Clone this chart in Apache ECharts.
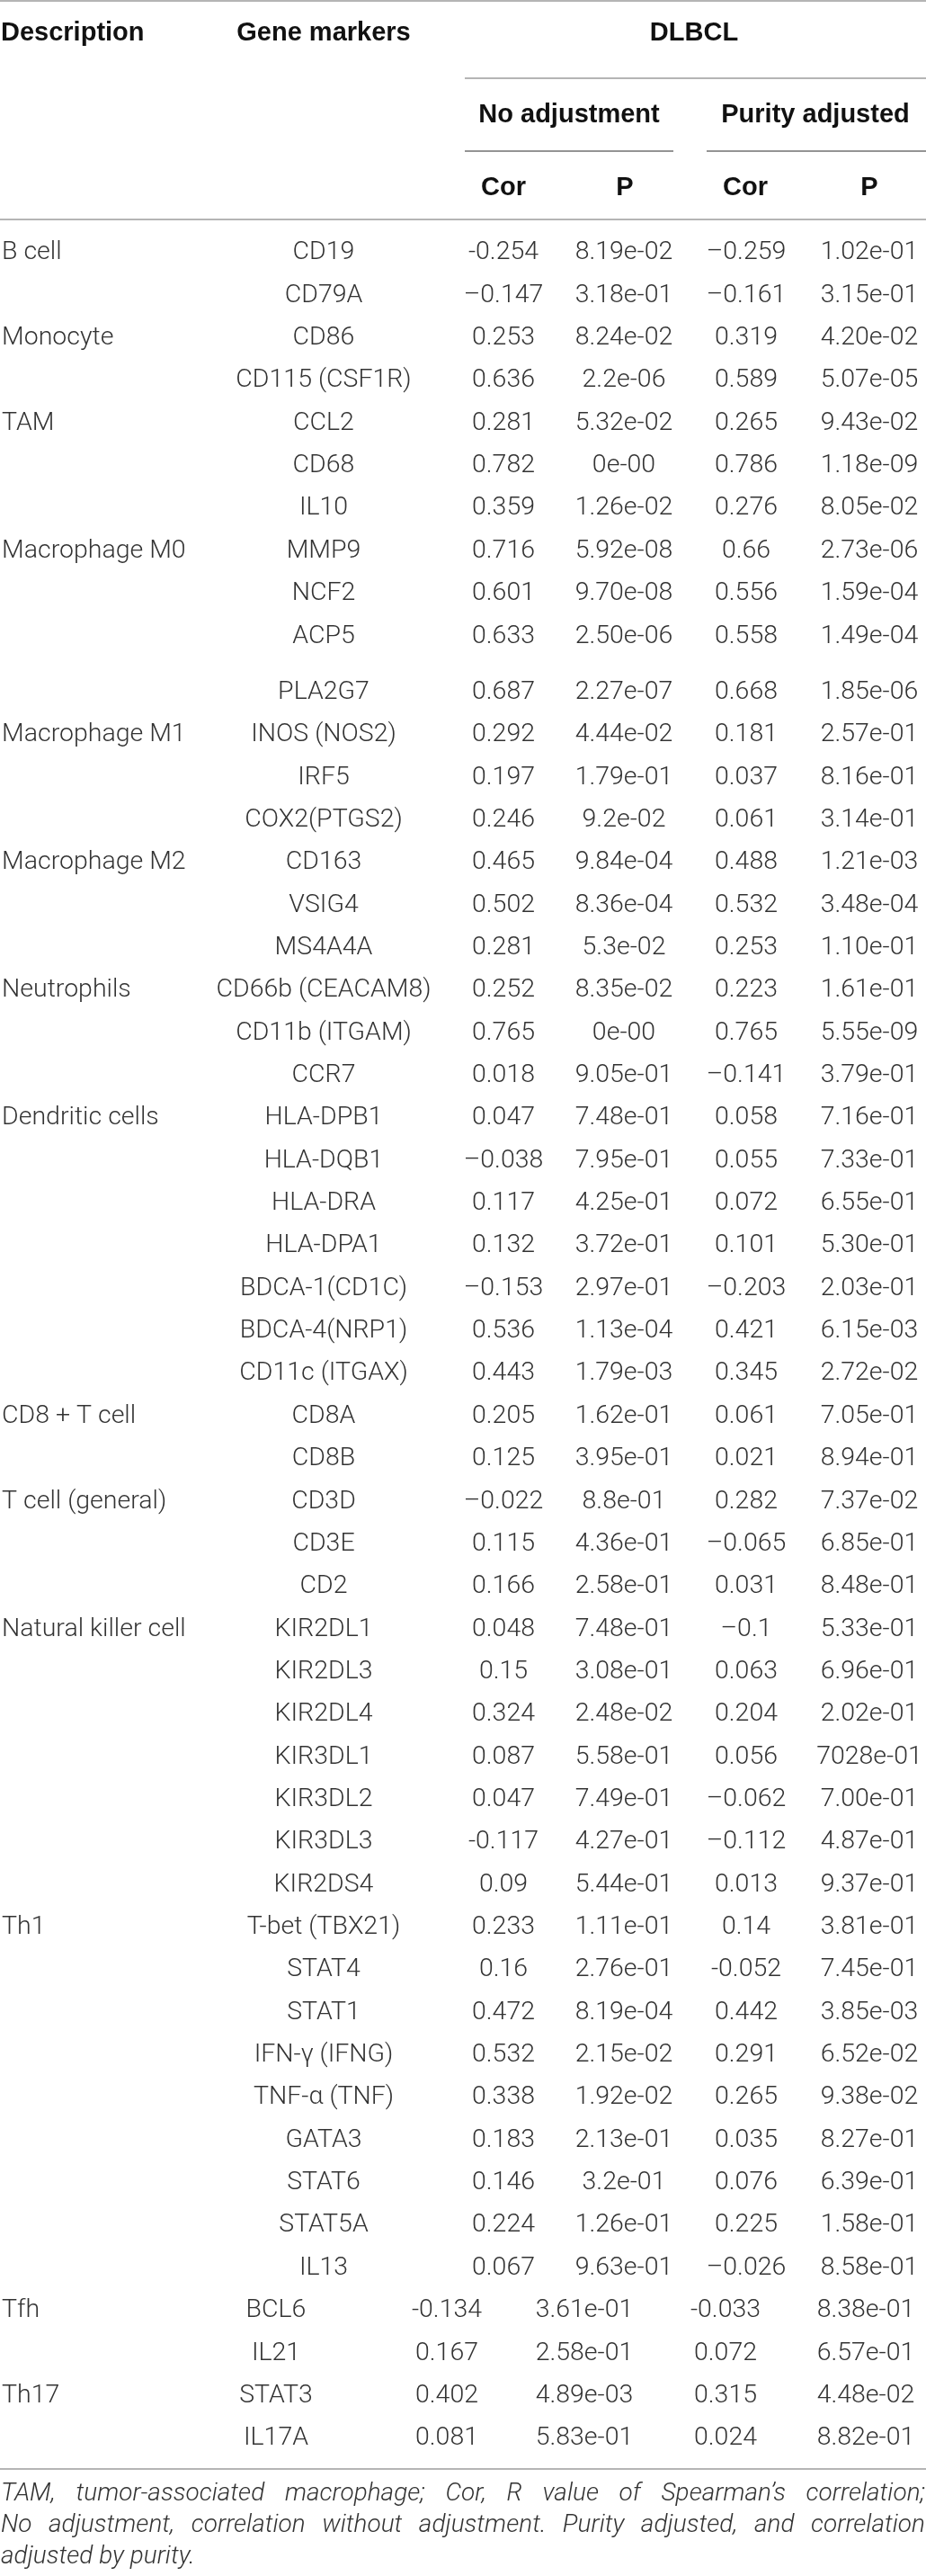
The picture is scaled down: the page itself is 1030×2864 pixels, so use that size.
<!DOCTYPE html>
<html>
<head>
<meta charset="UTF-8">
<title>DLBCL gene markers</title>
<script src="https://cdn.jsdelivr.net/npm/echarts@6/dist/echarts.min.js"></script>
<style>
    html, body { margin: 0; padding: 0; background: #fff; }
    #main { width: 1030px; height: 2864px; }
</style>
</head>
<body>
<div id="main"></div>
<script>
    // table content, row by row
    var descriptions = ['B cell', '', 'Monocyte', '', 'TAM', '', '', 'Macrophage M0', '', '', '',
        'Macrophage M1', '', '', 'Macrophage M2', '', '', 'Neutrophils', '', '',
        'Dendritic cells', '', '', '', '', '', '', 'CD8 + T cell', '', 'T cell (general)', '', '',
        'Natural killer cell', '', '', '', '', '', '', 'Th1', '', '', '', '', '', '', '', '',
        'Tfh', '', 'Th17', ''];
    var geneMarkers = ['CD19', 'CD79A', 'CD86', 'CD115 (CSF1R)', 'CCL2', 'CD68', 'IL10', 'MMP9', 'NCF2', 'ACP5',
        'PLA2G7', 'INOS (NOS2)', 'IRF5', 'COX2(PTGS2)', 'CD163', 'VSIG4', 'MS4A4A', 'CD66b (CEACAM8)',
        'CD11b (ITGAM)', 'CCR7', 'HLA-DPB1', 'HLA-DQB1', 'HLA-DRA', 'HLA-DPA1', 'BDCA-1(CD1C)', 'BDCA-4(NRP1)',
        'CD11c (ITGAX)', 'CD8A', 'CD8B', 'CD3D', 'CD3E', 'CD2', 'KIR2DL1', 'KIR2DL3', 'KIR2DL4', 'KIR3DL1',
        'KIR3DL2', 'KIR3DL3', 'KIR2DS4', 'T-bet (TBX21)', 'STAT4', 'STAT1', 'IFN-\u03b3 (IFNG)', 'TNF-\u03b1 (TNF)',
        'GATA3', 'STAT6', 'STAT5A', 'IL13', 'BCL6', 'IL21', 'STAT3', 'IL17A'];
    var corNoAdj = ['-0.254', '\u20130.147', '0.253', '0.636', '0.281', '0.782', '0.359', '0.716', '0.601', '0.633',
        '0.687', '0.292', '0.197', '0.246', '0.465', '0.502', '0.281', '0.252', '0.765', '0.018',
        '0.047', '\u20130.038', '0.117', '0.132', '\u20130.153', '0.536', '0.443', '0.205', '0.125', '\u20130.022',
        '0.115', '0.166', '0.048', '0.15', '0.324', '0.087', '0.047', '-0.117', '0.09', '0.233',
        '0.16', '0.472', '0.532', '0.338', '0.183', '0.146', '0.224', '0.067', '-0.134', '0.167',
        '0.402', '0.081'];
    var pNoAdj = ['8.19e-02', '3.18e-01', '8.24e-02', '2.2e-06', '5.32e-02', '0e-00', '1.26e-02', '5.92e-08', '9.70e-08', '2.50e-06',
        '2.27e-07', '4.44e-02', '1.79e-01', '9.2e-02', '9.84e-04', '8.36e-04', '5.3e-02', '8.35e-02', '0e-00', '9.05e-01',
        '7.48e-01', '7.95e-01', '4.25e-01', '3.72e-01', '2.97e-01', '1.13e-04', '1.79e-03', '1.62e-01', '3.95e-01', '8.8e-01',
        '4.36e-01', '2.58e-01', '7.48e-01', '3.08e-01', '2.48e-02', '5.58e-01', '7.49e-01', '4.27e-01', '5.44e-01', '1.11e-01',
        '2.76e-01', '8.19e-04', '2.15e-02', '1.92e-02', '2.13e-01', '3.2e-01', '1.26e-01', '9.63e-01', '3.61e-01', '2.58e-01',
        '4.89e-03', '5.83e-01'];
    var corPurity = ['\u20130.259', '\u20130.161', '0.319', '0.589', '0.265', '0.786', '0.276', '0.66', '0.556', '0.558',
        '0.668', '0.181', '0.037', '0.061', '0.488', '0.532', '0.253', '0.223', '0.765', '\u20130.141',
        '0.058', '0.055', '0.072', '0.101', '\u20130.203', '0.421', '0.345', '0.061', '0.021', '0.282',
        '\u20130.065', '0.031', '\u20130.1', '0.063', '0.204', '0.056', '\u20130.062', '\u20130.112', '0.013', '0.14',
        '-0.052', '0.442', '0.291', '0.265', '0.035', '0.076', '0.225', '\u20130.026', '-0.033', '0.072',
        '0.315', '0.024'];
    var pPurity = ['1.02e-01', '3.15e-01', '4.20e-02', '5.07e-05', '9.43e-02', '1.18e-09', '8.05e-02', '2.73e-06', '1.59e-04', '1.49e-04',
        '1.85e-06', '2.57e-01', '8.16e-01', '3.14e-01', '1.21e-03', '3.48e-04', '1.10e-01', '1.61e-01', '5.55e-09', '3.79e-01',
        '7.16e-01', '7.33e-01', '6.55e-01', '5.30e-01', '2.03e-01', '6.15e-03', '2.72e-02', '7.05e-01', '8.94e-01', '7.37e-02',
        '6.85e-01', '8.48e-01', '5.33e-01', '6.96e-01', '2.02e-01', '7028e-01', '7.00e-01', '4.87e-01', '9.37e-01', '3.81e-01',
        '7.45e-01', '3.85e-03', '6.52e-02', '9.38e-02', '8.27e-01', '6.39e-01', '1.58e-01', '8.58e-01', '8.38e-01', '6.57e-01',
        '4.48e-02', '8.82e-01'];

    var headTop = ['Description', 'Gene markers', 'DLBCL'];
    var headMid = ['No adjustment', 'Purity adjusted'];
    var headSub = ['Cor', 'P', 'Cor', 'P'];
    var footLines = [
        'TAM, tumor-associated macrophage; Cor, R value of Spearman\u2019s correlation;',
        'No adjustment, correlation without adjustment. Purity adjusted, and correlation',
        'adjusted by purity.'
    ];

    // layout (axis units == pixels)
    var W = 1030, H = 2864;
    var rowStart = 280, rowStep = 47.35, gapRow = 10, gapSize = 15;
    var colX = [2, 360, 560, 694, 830, 967];
    var colXTail = [2, 307, 497, 650, 807, 963];   // Tfh / Th17 rows sit further left
    var tailFrom = 48;
    var bodyFont = "'Roboto Light', 'Lato Light', 'Open Sans Light', Roboto, sans-serif";
    var headFont = "'Liberation Sans', Arial, sans-serif";
    var bodySize = 28.5, headSize = 29;
    var bodyColor = '#333333', headColor = '#111111';

    function rowY(i) {
        return rowStart + i * rowStep + (i >= gapRow ? gapSize : 0);
    }

    var cells = [];
    var columns = [descriptions, geneMarkers, corNoAdj, pNoAdj, corPurity, pPurity];
    for (var i = 0; i < geneMarkers.length; i++) {
        var cx = i >= tailFrom ? colXTail : colX;
        for (var c = 0; c < columns.length; c++) {
            if (!columns[c][i]) continue;
            cells.push({ value: [cx[c], rowY(i)], text: columns[c][i], align: c === 0 ? 'left' : 'center', head: false });
        }
    }
    // header cells
    cells.push({ value: [1, 37], text: headTop[0], align: 'left', head: true });
    cells.push({ value: [360, 37], text: headTop[1], align: 'center', head: true });
    cells.push({ value: [772, 37], text: headTop[2], align: 'center', head: true });
    cells.push({ value: [633, 128], text: headMid[0], align: 'center', head: true });
    cells.push({ value: [907, 128], text: headMid[1], align: 'center', head: true });
    [560, 695, 829, 967].forEach(function (x, k) {
        cells.push({ value: [x, 209], text: headSub[k], align: 'center', head: true });
    });

    // rules: [x1, x2, y, colour, width]
    var rules = [
        [0, W, 1, '#b5b5b5', 2],
        [517, W, 87, '#b5b5b5', 2],
        [517, 749, 168, '#707070', 1.5],
        [786, W, 168, '#707070', 1.5],
        [0, W, 244, '#b5b5b5', 2],
        [0, W, 2745, '#b5b5b5', 2]
    ];

    // footnote, justified like the printed caption
    var footSize = 28, footY = [2772, 2807, 2842];
    var footFontCss = 'italic 300 ' + footSize + 'px ' + bodyFont;
    var ctx = document.createElement('canvas').getContext('2d');
    ctx.font = footFontCss;
    var footWords = [];
    footLines.forEach(function (line, li) {
        var words = line.split(' ');
        var widths = words.map(function (w) { return ctx.measureText(w).width; });
        var total = widths.reduce(function (a, b) { return a + b; }, 0);
        var justify = li < footLines.length - 1;
        var gap = justify ? (W - 2 - total) / (words.length - 1) : ctx.measureText(' ').width;
        var x = 1;
        words.forEach(function (w, k) {
            footWords.push({ value: [x, footY[li]], text: w });
            x += widths[k] + gap;
        });
    });

    var myChart = echarts.init(document.getElementById('main'), null, { renderer: 'canvas' });

    var option = {
        backgroundColor: '#ffffff',
        animation: false,
        grid: { left: 0, right: 0, top: 0, bottom: 0 },
        xAxis: { type: 'value', min: 0, max: W, show: false },
        yAxis: { type: 'value', min: 0, max: H, inverse: true, show: false },
        series: [
            {
                type: 'custom',
                silent: true,
                clip: false,
                data: rules.map(function (r) { return [r[0], r[1], r[2]]; }),
                renderItem: function (params, api) {
                    var r = rules[params.dataIndex];
                    var a = api.coord([r[0], r[2]]), b = api.coord([r[1], r[2]]);
                    return {
                        type: 'line',
                        shape: { x1: a[0], y1: a[1], x2: b[0], y2: b[1] },
                        style: { stroke: r[3], lineWidth: r[4] }
                    };
                }
            },
            {
                type: 'custom',
                silent: true,
                clip: false,
                data: cells.map(function (c) { return c.value; }),
                renderItem: function (params, api) {
                    var c = cells[params.dataIndex];
                    var p = api.coord([api.value(0), api.value(1)]);
                    return {
                        type: 'text',
                        x: p[0], y: p[1],
                        style: {
                            text: c.text,
                            fill: c.head ? headColor : bodyColor,
                            fontSize: c.head ? headSize : bodySize,
                            fontFamily: c.head ? headFont : bodyFont,
                            fontWeight: c.head ? 'bold' : 300,
                            align: c.align,
                            verticalAlign: 'middle'
                        }
                    };
                }
            },
            {
                type: 'custom',
                silent: true,
                clip: false,
                data: footWords.map(function (w) { return w.value; }),
                renderItem: function (params, api) {
                    var w = footWords[params.dataIndex];
                    var p = api.coord([api.value(0), api.value(1)]);
                    return {
                        type: 'text',
                        x: p[0], y: p[1],
                        style: {
                            text: w.text,
                            fill: bodyColor,
                            fontSize: footSize,
                            fontFamily: bodyFont,
                            fontStyle: 'italic',
                            fontWeight: 300,
                            align: 'left',
                            verticalAlign: 'middle'
                        }
                    };
                }
            }
        ]
    };

    myChart.setOption(option);
</script>
</body>
</html>
